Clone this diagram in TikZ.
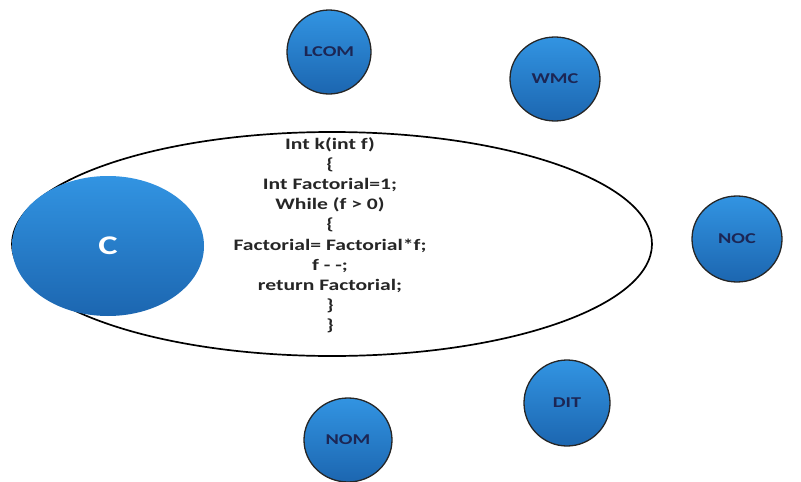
\documentclass[tikz,border=0pt]{standalone}
\usepackage{fontspec}
\setmainfont{Carlito}
\usetikzlibrary{shapes.geometric}
\definecolor{bluetop}{RGB}{50,148,226}
\definecolor{bluebot}{RGB}{28,102,176}
\definecolor{labelnavy}{RGB}{28,38,84}
\tikzset{
  metric/.style={ellipse, draw=black!85, line width=1.3pt, top color=bluetop, bottom color=bluebot,
    inner sep=0pt, text=labelnavy, font=\bfseries\fontsize{15}{17}\selectfont},
  bigc/.style={ellipse, top color=bluetop, bottom color=bluebot, inner sep=0pt, text=white,
    font=\bfseries\fontsize{27}{30}\selectfont},
  codering/.style={ellipse, draw=black, line width=1.7pt, fill=white, inner sep=0pt},
  codetext/.style={inner sep=0pt, text=black!85, font=\bfseries\fontsize{16}{20.1}\selectfont}
}
\newcommand{\wide}[1]{\scalebox{1.35}[1]{#1}}
\begin{document}
\begin{tikzpicture}[x=1pt,y=-1pt]
\useasboundingbox (0,0) rectangle (801,482);
\node[codering, minimum width=640pt, minimum height=224pt] (ring) at (332,244) {};
\node[codetext] (code) at (330,236) {\wide{\begin{tabular}{@{}c@{}}
Int k(int f)\\
\{\\
Int Factorial=1;\\
While (f > 0)\\
\{\\
Factorial= Factorial*f;\\
f - -;\\
return Factorial;\\
\}\\
\}
\end{tabular}}};
\node[bigc, minimum width=192pt, minimum height=140pt] (C) at (108,246) {\wide{C}};
\node[metric, minimum width=84pt, minimum height=84pt] (LCOM) at (329,52) {\wide{LCOM}};
\node[metric, minimum width=90pt, minimum height=84pt] (WMC) at (555,79) {\wide{WMC}};
\node[metric, minimum width=90pt, minimum height=86pt] (NOC) at (737,239) {\wide{NOC}};
\node[metric, minimum width=86pt, minimum height=86pt] (DIT) at (567,403) {\wide{DIT}};
\node[metric, minimum width=88pt, minimum height=84pt] (NOM) at (348,440) {\wide{NOM}};
\end{tikzpicture}
\end{document}
